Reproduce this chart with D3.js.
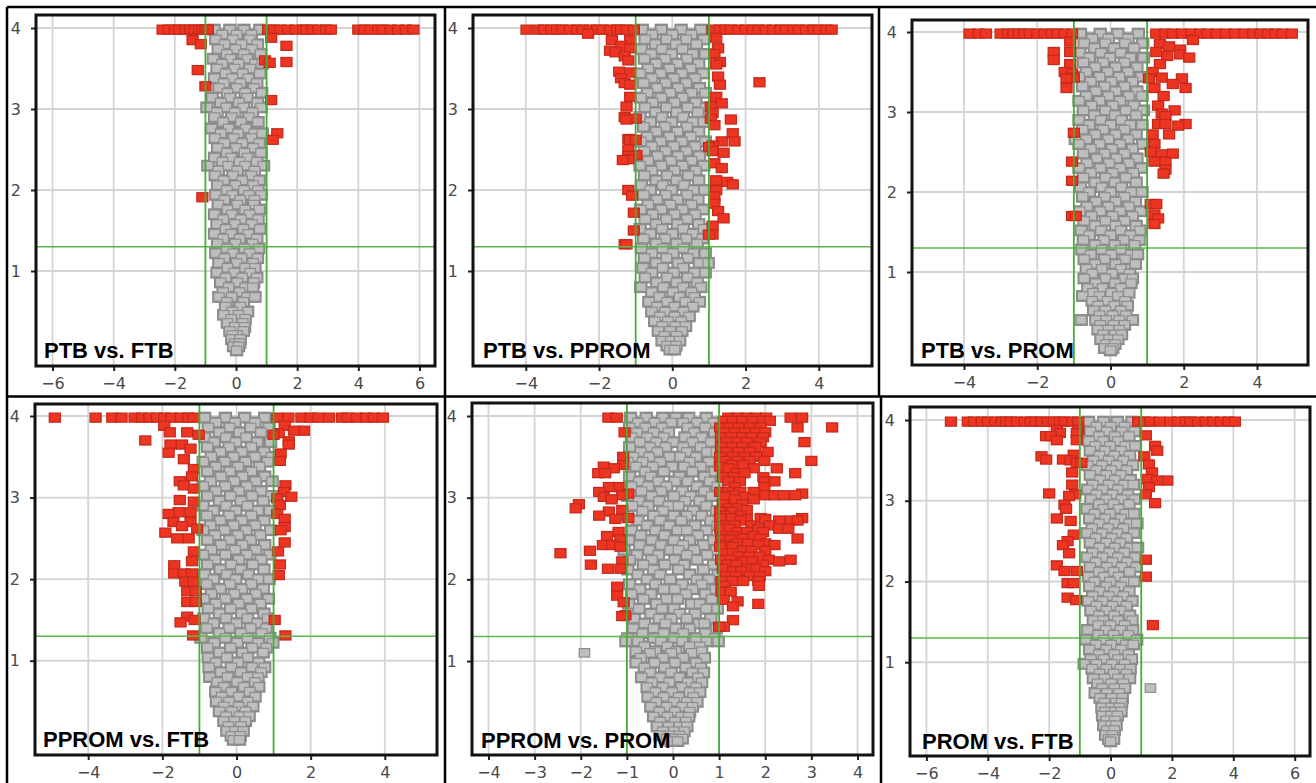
<!DOCTYPE html>
<html><head><meta charset="utf-8">
<script src="https://cdn.jsdelivr.net/npm/d3@7/dist/d3.min.js"></script>
<style>html,body{margin:0;padding:0;background:#fff;overflow:hidden}svg{display:block}</style>
</head><body><svg id="c" width="1316" height="783"></svg>
<script>
// Every row is [y, x, x, x ...].
const titles=["PTB vs. FTB","PTB vs. PPROM","PTB vs. PROM","PPROM vs. FTB","PPROM vs. PROM","PROM vs. FTB"];
const xTicks=[[-6,-4,-2,0,2,4,6],[-4,-2,0,2,4],[-4,-2,0,2,4],[-4,-2,0,2,4],[-4,-3,-2,-1,0,1,2,3,4],[-6,-4,-2,0,2,4,6]];
const yTicks=[1,2,3,4];
const foldX=[-1,1];
const pLine=1.3;

const gray1=[[3.98,-.72,-.2,.26,.78],[3.92,-.45,.02,.5],[3.86,-.66,-.1,.44],[3.8,-.38,.18,.7],[3.74,-.58,-.02,.52],[3.68,-.3,.26,.8],[3.62,-.74,-.18,.36],[3.56,-.46,.08,.62,.86],[3.5,-.62,-.05,.46],[3.44,-.34,.22,.78],[3.38,-.7,-.12,.4],[3.32,-.4,.14,.68],[3.26,-.56,.02,.58],[3.2,-.28,.3,.84],[3.14,-.78,-.2,.36],[3.08,-.5,.1,.7],[3.02,-.95,-.32,.24,.82],[2.96,-.62,-.04,.54],[2.9,-.7,-.14,.42],[2.84,-.42,.16,.72],[2.76,-.8,-.24,.32],[2.7,-.5,.06,.6,.86],[2.64,-.68,-.08,.5],[2.58,-.38,.2,.76],[2.52,-.6,.0,.56],[2.46,-.3,.28,.82],[2.4,-.7,-.16,.38],[2.35,-.44,.12,.68],[2.3,-.92,-.26,.3,.9],[2.24,-.58,.04,.6],[2.18,-.68,-.1,.5],[2.12,-.4,.2,.76],[2.06,-.6,-.02,.56],[2,-.3,.26,.72],[1.94,-.66,-.12,.42,.82],[1.88,-.38,.14,.6],[1.82,-.58,.04,.58],[1.76,-.28,.3,.76],[1.7,-.7,-.14,.44],[1.64,-.42,.16,.72],[1.58,-.62,-.04,.52],[1.52,-.34,.24,.78],[1.46,-.7,-.16,.4],[1.4,-.42,.12,.68],[1.34,-.6,-.02,.54],[1.28,-.3,.28,.74],[1.22,-.66,-.1,.44],[1.16,-.38,.18,.7],[1.1,-.56,.02,.56],[1.04,-.28,.3,.62],[.98,-.62,-.06,.46],[.92,-.34,.2,.68],[.86,-.5,.04,.58],[.8,-.24,.3,.55],[.74,-.42,.12],[.68,-.56,-.14,.36,.62],[.62,-.3,.24],[.56,-.34,.14],[.5,-.12,.38],[.46,-.4,.08],[.41,-.16,.3],[.36,-.28,.22],[.31,-.04,.28],[.26,-.2,.24],[.21,.04,-.12],[.16,-.14,.14],[.11,-.04,.12],[.07,-.08,.08],[.02,.02]];

const gray2=[[3.98,-.82,-.3,.24,.78],[3.92,-.55,.0,.52],[3.86,-.74,-.16,.38,.86],[3.8,-.46,.1,.66],[3.74,-.84,-.28,.28],[3.68,-.58,-.02,.56,.9],[3.62,-.76,-.2,.4],[3.56,-.44,.14,.72],[3.5,-.66,-.08,.5],[3.44,-.88,-.32,.26,.84],[3.38,-.56,.04,.62],[3.32,-.78,-.18,.38],[3.26,-.42,.16,.74],[3.2,-.68,-.06,.52,.9],[3.14,-.86,-.3,.28],[3.08,-.54,.06,.64],[3.02,-.74,-.16,.42,.92],[2.96,-.46,.12,.7],[2.9,-.88,-.28,.3],[2.84,-.6,-.02,.56,.86],[2.78,-.78,-.2,.4],[2.72,-.44,.14,.72],[2.66,-.68,-.08,.5],[2.6,-.86,-.32,.26,.9],[2.54,-.56,.04,.62],[2.48,-.76,-.18,.38],[2.42,-.4,.16,.74],[2.36,-.66,-.04,.52],[2.3,-.88,-.3,.28,.86],[2.24,-.56,.06,.64],[2.18,-.76,-.14,.44],[2.12,-.44,.12,.72],[2.06,-.84,-.26,.32],[2,-.6,-.02,.58,.88],[1.94,-.78,-.18,.4],[1.88,-.42,.14,.7],[1.82,-.66,-.06,.52],[1.76,-.86,-.3,.28,.84],[1.7,-.54,.06,.62],[1.64,-.74,-.16,.4],[1.58,-.44,.14,.72],[1.52,-.88,-.28,.3,.86],[1.46,-.6,.0,.56],[1.4,-.78,-.2,.38,.82],[1.34,-.44,.12,.68],[1.28,-.84,-.26,.3],[1.22,-.56,.02,.58,.9],[1.16,-.76,-.16,.42],[1.1,-.44,.16,.74,.98],[1.04,-.8,-.26,.3],[.98,-.56,.04,.6,.9],[.92,-.74,-.14,.42],[.86,-.42,.12,.68],[.8,-.86,-.24,.3,.78],[.74,-.56,.02,.52],[.68,-.36,.2,.6],[.62,-.64,-.14,.36,.74],[.56,-.42,.06,.56],[.5,-.56,-.2,.3],[.44,-.34,.06,.46],[.38,-.48,-.12,.24],[.32,-.28,.08,.36],[.26,-.38,-.06,.26],[.2,-.22,.12],[.14,-.28,-.04,.2],[.08,-.14,.1],[.03,-.06,.06]];

const gray3=[[3.98,-.82,-.28,.2,.76],[3.92,-.5,-.06,.48],[3.86,-.72,-.14,.4,.88],[3.8,-.44,.1,.64],[3.74,-.84,-.26,.28],[3.68,-.58,-.02,.54,.9],[3.62,-.74,-.2,.38],[3.56,-.42,.14,.72],[3.5,-.66,-.08,.48],[3.44,-.86,-.3,.24,.84],[3.38,-.54,.02,.6],[3.32,-.76,-.16,.38],[3.26,-.4,.14,.72],[3.2,-.66,-.06,.5,.86],[3.14,-.86,-.3,.26],[3.08,-.52,.06,.64],[3.02,-.74,-.14,.42,.9],[2.96,-.44,.12,.7],[2.9,-.86,-.26,.3],[2.84,-.58,.0,.54,.86],[2.78,-.76,-.2,.38],[2.72,-.42,.14,.7],[2.66,-.96,-.66,-.06,.48],[2.6,-.86,-.3,.26,.88],[2.54,-.54,.04,.6],[2.48,-.74,-.16,.38],[2.42,-.38,.16,.72],[2.36,-.64,-.04,.5],[2.3,-.86,-.28,.26,.84],[2.24,-.54,.06,.62],[2.18,-.74,-.14,.42],[2.12,-.42,.12,.7],[2.06,-.82,-.24,.3],[2,-.58,.0,.56,.86],[1.94,-.76,-.16,.38],[1.88,-.4,.14,.68],[1.82,-.64,-.06,.5],[1.76,-.84,-.28,.26,.82],[1.7,-.52,.06,.6],[1.64,-.72,-.14,.38],[1.58,-.42,.14,.7],[1.52,-.8,-.26,.28,.8],[1.46,-.58,.0,.54],[1.4,-.74,-.18,.36,.78],[1.34,-.42,.12,.66],[1.28,-.78,-.24,.28],[1.22,-.54,.02,.56,.74],[1.16,-.72,-.16,.4],[1.1,-.42,.14,.68],[1.04,-.66,-.24,.28],[.98,-.5,.04,.52],[.92,-.72,-.14,.38,.6],[.86,-.4,.12,.56],[.8,-.62,-.22,.28],[.74,-.48,.02,.5],[.7,-.76,-.3,.2],[.64,-.5,-.08,.4],[.58,-.34,.1,.46],[.52,-.46,-.14,.28],[.46,-.3,.06,.42],[.4,-.8,-.4,-.12,.24,.6],[.34,-.28,.08,.38],[.28,-.34,-.06,.24],[.22,-.2,.12,.3],[.16,-.26,-.04,.2],[.1,-.12,.12],[.05,-.16,.06],[.02,.0]];

const gray4=[[3.98,-.86,-.3,.22,.76],[3.92,-.56,-.04,.5],[3.86,-.76,-.18,.38,.88],[3.8,-.46,.08,.66],[3.74,-.86,-.28,.26],[3.68,-.6,-.02,.56,.92],[3.62,-.78,-.2,.4],[3.56,-.44,.14,.74],[3.5,-.68,-.08,.5,.94],[3.44,-.9,-.32,.24,.84],[3.38,-.56,.04,.62],[3.32,-.78,-.18,.4],[3.26,-.42,.16,.76],[3.2,-.7,-.06,.52,.96],[3.14,-.9,-.3,.28],[3.08,-.56,.06,.66],[3.02,-.78,-.16,.42,.94],[2.96,-.46,.12,.72],[2.9,-.9,-.28,.3],[2.84,-.62,-.02,.58,.9],[2.78,-.8,-.2,.4],[2.72,-.44,.14,.74],[2.66,-.7,-.08,.5],[2.6,-.9,-.32,.26,.92],[2.54,-.58,.04,.64],[2.48,-.78,-.18,.38],[2.42,-.42,.16,.76],[2.36,-.68,-.04,.52],[2.3,-.9,-.3,.28,.9],[2.24,-.58,.06,.66],[2.18,-.78,-.14,.44],[2.12,-.44,.12,.74],[2.06,-.86,-.26,.32],[2,-.62,-.02,.58,.88],[1.94,-.8,-.18,.4],[1.88,-.44,.14,.72],[1.82,-.68,-.06,.52],[1.76,-.88,-.3,.28,.86],[1.7,-.56,.06,.64],[1.64,-.76,-.16,.4],[1.58,-.46,.14,.74],[1.52,-.88,-.28,.3,.84],[1.46,-.62,.0,.56],[1.4,-.8,-.2,.38,.8],[1.34,-.46,.12,.68],[1.28,-.96,-.3,.3,.9],[1.22,-.6,.02,.58,.98],[1.16,-.78,-.16,.42,.8],[1.1,-.46,.16,.72],[1.04,-.76,-.26,.3],[.98,-.56,.04,.6],[.92,-.74,-.14,.42,.76],[.86,-.42,.12,.66],[.8,-.72,-.24,.3,.58],[.74,-.52,.02,.5],[.68,-.34,.2,.6],[.62,-.56,-.14,.36],[.56,-.4,.06,.5],[.5,-.54,-.2,.3],[.44,-.34,.06,.44],[.38,-.46,-.12,.24],[.32,-.28,.08,.34],[.26,-.34,-.06,.24],[.2,-.22,.12],[.14,-.26,-.04,.18],[.08,-.14,.1],[.03,-.08,.08]];

const gray5=[[3.98,-.92,-.58,-.22,.06,.34,.72],[3.92,-.76,-.4,-.04,.22,.52,.88],[3.86,-.94,-.6,-.24,.32,.7],[3.8,-.78,-.42,-.1,.46,.9],[3.74,-.9,-.56,-.2,.26,.62],[3.68,-.72,-.36,.0,.42,.82],[3.62,-.94,-.5,-.16,.22,.6],[3.56,-.7,-.34,.3,.74,.94],[3.5,-.86,-.52,-.08,.16,.5],[3.44,-.98,-.66,-.28,.36,.78],[3.38,-.8,-.44,-.02,.24,.6],[3.32,-.6,-.2,.42,.9],[3.26,-.94,-.48,.14,.68],[3.2,-.74,-.32,.04,.32,.8],[3.14,-.9,-.54,-.14,.52,.96],[3.08,-.68,-.26,.2,.68],[3.02,-.98,-.46,.02,.38,.84],[2.96,-.74,-.3,.26,.58],[2.9,-.88,-.54,-.1,.12,.72],[2.84,-.66,-.22,.44,.94],[2.78,-.98,-.42,.02,.3,.62],[2.72,-.76,-.28,.18,.82],[2.66,-.56,-.08,.48,.96],[2.6,-.9,-.38,.1,.3,.72],[2.54,-.7,-.18,.54],[2.48,-.96,-.46,.02,.36,.88],[2.42,-.72,-.26,.22,.66],[2.36,-1.06,-.52,-.06,.12,.46,.94],[2.3,-.78,-.32,.3,.74],[2.24,-.94,-.46,.04,.52],[2.18,-.64,-.18,.24,.88],[2.12,-.98,-.42,.12,.66],[2.06,-.76,-.28,.36,.98],[2,-.56,-.06,.52,.78],[1.94,-.94,-.38,.2,.62],[1.88,-.72,-.2,.04,.42,.92],[1.82,-.9,-.48,.28,.7],[1.76,-.64,-.14,.1,.84],[1.7,-.96,-.36,.4,.58],[1.64,-.74,-.24,.02,.72,.96],[1.58,-.48,.14,.48],[1.52,-.84,-.3,-.04,.3,.82],[1.46,-.62,-.16,.56,.68],[1.4,-.86,-.42,.06,.36,.94],[1.34,-.66,-.2,.22,.7],[1.28,-.98,-.42,.02,.5,.9],[1.24,-1.02,-.76,-.26,.2,.72,.98],[1.18,-.62,-.12,.36,.58],[1.12,-.8,-.38,.06,.62],[1.1,-1.92,-.5,-.04,.4],[1.04,-.7,-.22,.22,.68],[.98,-.8,-.4,.04,.5],[.92,-.62,-.18,.28,.6],[.86,-.5,-.04,.42,.66],[.8,-.68,-.28,.14,.54],[.74,-.46,-.08,.32,.62],[.68,-.56,-.22,.18,.5],[.62,-.38,-.02,.36,.58],[.56,-.54,-.2,.12,.44],[.5,-.36,.02,.3,.52],[.44,-.48,-.14,.2,.42],[.38,-.3,.04,.36],[.32,-.42,-.12,.18,.34],[.26,-.28,.04,.28],[.2,-.34,-.1,.14,.3],[.14,-.22,.02,.24],[.09,-.28,-.08,.14],[.05,-.14,.06,.2],[.02,-.04,.1]];

const gray6=[[3.98,-.72,-.22,.22,.7],[3.92,-.46,.0,.46],[3.86,-.66,-.12,.36,.78],[3.8,-.38,.14,.6],[3.74,-.7,-.24,.24],[3.68,-.5,-.02,.48,.8],[3.62,-.66,-.18,.34],[3.56,-.36,.12,.62],[3.5,-.56,-.06,.42],[3.44,-.74,-.28,.2,.72],[3.38,-.46,.02,.52],[3.32,-.66,-.14,.34],[3.26,-.34,.14,.64],[3.2,-.58,-.06,.44,.74],[3.14,-.74,-.26,.24],[3.08,-.46,.06,.56],[3.02,-.64,-.14,.36,.78],[2.96,-.38,.1,.6],[2.9,-.76,-.24,.26],[2.84,-.52,-.02,.48,.76],[2.78,-.68,-.18,.34],[2.72,-.38,.12,.62,.86],[2.66,-.6,-.08,.42],[2.6,-.76,-.28,.22,.76],[2.54,-.48,.04,.52],[2.48,-.66,-.14,.32],[2.42,-.36,.14,.64,.88],[2.36,-.58,-.04,.44],[2.3,-.76,-.26,.24,.8],[2.24,-.48,.06,.54],[2.18,-.66,-.12,.36,.84],[2.12,-.38,.1,.62],[2.06,-.72,-.22,.26],[2,-.52,-.02,.48,.76],[1.94,-.68,-.14,.34],[1.88,-.36,.12,.6],[1.82,-.58,-.06,.42],[1.76,-.72,-.26,.22,.7],[1.7,-.46,.06,.52],[1.64,-.64,-.14,.32],[1.58,-.38,.12,.62],[1.52,-.56,-.24,.24,.7],[1.46,-.4,.0,.46],[1.4,-.74,-.16,.32,.72],[1.34,-.4,.1,.58],[1.28,-.8,-.22,.24,.85],[1.22,-.48,.02,.5,.74],[1.16,-.68,-.14,.34],[1.1,-.38,.12,.58],[1.04,-.64,-.22,.24,.68],[.98,-.86,-.46,.04,.46],[.92,-.6,-.14,.32,.64],[.86,-.36,.1,.52],[.8,-.56,-.2,.24,.62],[.74,-.42,.02,.42],[.68,-.28,.14,.46,1.3],[.62,-.5,-.12,.28],[.56,-.34,.04,.38],[.5,-.2,.18,.36],[.44,-.28,.02,.28],[.39,-.18,.14,.34],[.34,-.26,.02,.22],[.28,-.14,.14],[.22,-.22,.02,.18],[.16,-.12,.12],[.1,-.16,.06],[.05,-.06,.1],[.02,.0]];

const red1=[[3.98,-2.4,-2.2,-2,-1.85,-1.65,-1.5,-1.35,-1.2,-1.1,-1,-.92,1.05,1.25,1.45,1.7,1.95,2.2,2.3,2.5,2.7,2.95,3.1,4,4.2,4.4,4.65,4.8,5.05,5.3,5.55,5.8],[3.88,1.15],[3.85,-1.42],[3.8,-1.15],[3.78,1.65],[3.6,.95],[3.58,1.65],[3.57,1.1],[3.48,-1.25],[3.28,-1],[3.11,1.15],[2.7,1.35],[2.62,1.2],[1.91,-1.1]];

const red2=[[3.98,-3.98,-3.65,-3.5,-3.3,-3.15,-3,-2.8,-2.6,-2.45,-2.25,-2.05,-1.9,-1.7,-1.5,-1.4,-1.25,-1.05,1.1,1.3,1.45,1.6,1.8,2,2.2,2.35,2.55,2.75,2.95,3.1,3.3,3.45,3.65,3.85,4,4.2,4.35],[3.93,-2.3],[3.88,1.2],[3.85,-1.65,-1.15],[3.78,-1.4],[3.75,-1.15,1.25],[3.72,-1.7],[3.7,-1.55],[3.68,1.15],[3.65,-1.3],[3.6,-1.2],[3.58,1.3],[3.55,1.2],[3.46,-1.45],[3.45,-1.15],[3.4,1.25],[3.38,-1.4],[3.33,2.38],[3.32,-1.3],[3.3,-1.15,1.3],[3.15,-1.15,1.2],[3.07,1.35],[3.03,-1.25,1.05],[2.95,1.1],[2.9,-1.3],[2.88,-1,1.05],[2.87,-1.25,1.6],[2.8,1.15],[2.7,1.65],[2.63,-1.2],[2.62,-1.15,-1],[2.6,1.7,1.35],[2.55,1.1],[2.53,1],[2.5,-1.2],[2.48,1.1],[2.46,1.4],[2.43,-.98],[2.42,-1.2],[2.38,-1.2],[2.37,-1.35],[2.33,1.15],[2.27,1.35],[2.12,1.2],[2.1,1.5],[2.07,1.65],[2,-1.2,1.2],[1.93,-1.1],[1.92,1.15],[1.83,1.15],[1.74,1.25],[1.72,-1.05],[1.65,1.4],[1.56,1.1],[1.5,-1.05],[1.45,1.1,1],[1.33,-1.3,-1.25]];

const red3=[[3.98,-3.85,-3.6,-3.4,-3,-2.8,-2.65,-2.5,-2.35,-2.2,-2,-1.8,-1.6,-1.45,-1.25,-1.05,1.25,1.5,1.7,1.95,2.2,2.45,2.65,2.9,3.15,3.4,3.65,3.9,4.1,4.3,4.5,4.7,4.95],[3.9,2.25],[3.88,-1.1],[3.85,1.35],[3.82,1.6],[3.78,1.9],[3.75,-1.55,-1.1,1.25],[3.72,1.9],[3.7,1.55],[3.68,2.15],[3.65,-1.55],[3.6,-1.1,1.35],[3.5,-1.25,1.15],[3.48,-1.05],[3.43,-1,1.4],[3.42,-1.2,1.05,1.95],[3.35,1.7],[3.3,-1.2,2.05,1.2],[3.2,1.45],[3.08,1.3],[3.02,1.75],[2.98,1.4],[2.95,1.5],[2.85,1.3,1.5,2.05],[2.83,1.85],[2.74,-1],[2.72,1.6,1.15],[2.6,1.2],[2.5,1.1],[2.48,1.7],[2.47,1.4],[2.38,-1.05,1.2,1.5],[2.28,1.5],[2.23,1.45],[2.14,-1.05],[1.85,1.1,1.25],[1.72,1.2],[1.7,-1.05,-.95],[1.67,1.3],[1.6,1.2]];

const red4=[[3.98,-4.9,-3.8,-3.35,-3.1,-2.75,-2.55,-2.35,-2.15,-1.95,-1.75,-1.5,-1.3,-1.15,1.1,1.4,1.75,2,2.2,2.5,2.85,3,3.25,3.5,3.7,3.95],[3.88,-1.95,1.3],[3.82,1.82,1.55],[3.8,-1.8,-1.33],[3.79,1.14],[3.77,-1.02,1],[3.7,-2.46],[3.69,1.41],[3.65,-1.78,-1.47,1.41],[3.6,-1.24],[3.55,-1.83],[3.54,1.19],[3.47,-1.42],[3.45,1.17],[3.35,-1.15],[3.26,-1.2],[3.2,-1.53],[3.15,-1.42,1.32],[3.11,-1.15],[3.07,1.28],[3.01,1.48],[2.99,1.1],[2.97,-1.53],[2.95,-1.15],[2.91,1.17],[2.82,-1.56,-1.24],[2.8,-1.83,1.1],[2.74,1.3],[2.7,-1.7,-1.24],[2.65,-1.47],[2.64,1.3],[2.62,-1.06],[2.6,1.19],[2.57,-1.92],[2.5,-1.6,-1.29],[2.45,1.3],[2.34,-1.15,1.12],[2.22,-1.2],[2.18,1.17],[2.17,-1.68],[2.07,-1.68,-1.42,-1.2],[2.05,1.14],[1.97,-1.38,-1.15],[1.85,-1.33,-1.1],[1.72,-1.33,-1.1],[1.54,-1.33],[1.5,-1.13,1.03],[1.47,-1.51],[1.31,-1.17,1.32]];

const red5=[[3.98,-1.4,-1.22,1.2,1.4,1.6,1.8,2.02,2.55,2.8],[3.94,1.1,1.3,1.5,1.72,1.95,2.1],[3.86,1.02,1.22,1.42,1.66,1.9,2.7,3.45],[3.8,-1.05,1.12,1.34,1.56,1.8,2],[3.74,1.04,1.26,1.5,1.7,1.95],[3.68,1.16,1.38,1.6,1.9,2.85],[3.62,1.04,1.28,1.5,1.78],[3.56,1.16,1.42,1.66,2.05],[3.5,-1.08,1.02,1.3,1.54,1.8],[3.45,1.12,1.4,1.66,1.98,3],[3.4,-1.08,1.28,1.52],[3.38,-1.5,1.02],[3.36,-1.28,1.2,1.75,2.25],[3.3,-1.62,-1.47,1.38,1.55,2.65],[3.25,1.08,1.32,1.96],[3.2,1.2,1.45,2,2.2],[3.13,-1.18,-1.39,1.34,1.98],[3.07,-1.6,1.02,1.2,1.46,1.75],[3.05,-.97,2.8],[3.03,-1.1,1.3,2,2.2,2.4,2.65],[3.01,-1.5,1.12,1.55],[2.98,-1.33,1.34,1.75],[2.92,-2.04,1.08,1.5],[2.87,-2.11,1.2,1.4],[2.85,-1.1,1.6],[2.83,-1.39,1.02,1.28],[2.78,-1.6,1.12,1.46],[2.75,-.97,1.02,1.28,1.9,2.8],[2.74,-1.25,1.6,2],[2.72,1.46,2.3,2.55,2.7],[2.66,1.12,1.34,1.7,2.1],[2.62,1.02,1.22,1.85,2.3,2.5],[2.58,-1.18,1.4,1.6,1.95],[2.53,-1.43,1.1,1.3,1.75],[2.5,1.52,1.9,2.7],[2.49,-1.14,1.04,1.24],[2.44,1.38,1.62,2],[2.42,-1.52,-1.32,1.1,1.85,2.2],[2.4,-1.14,1.02,1.3],[2.35,-1.8,1.5,1.7,2],[2.32,-2.44,1.12,1.3],[2.28,1.42,1.65,1.88],[2.24,1.04,1.24,2.08,2.55],[2.22,-1.1,1.52,1.72,2.3],[2.18,-1.78,1.18,1.38,1.95],[2.13,-1.41,-1.14,1.08,1.6,1.8],[2.1,1.3,1.48,2],[2.04,1.14,1.36,1.66,1.88],[1.98,1.05,1.28,1.52,1.85],[1.92,1.12,1.86],[1.91,-1.21],[1.85,1.05,1.25],[1.8,-1.21],[1.75,1.1],[1.73,1.4],[1.72,-1.07],[1.7,1.85],[1.67,1.3],[1.56,-1.03],[1.55,-1.1],[1.5,1.3],[1.42,1.1,1]];

const red6=[[3.98,-5.2,-4.65,-4.45,-4.2,-4,-3.75,-3.55,-3.4,-3.25,-3.05,-2.8,-2.6,-2.45,-2.25,-2.05,-1.85,-1.65,-1.5,-1.25,-1.05,.9,1.1,1.3,1.6,1.95,2.2,2.45,2.6,2.85,3.1,3.35,3.6,3.85,4.05],[3.88,-1.75,-1.05],[3.84,-1.65,-1.1],[3.81,1.15],[3.8,-2.1,-1.95],[3.75,-1.75,-1.1],[3.68,1.45],[3.62,1.52],[3.57,-1.2],[3.55,-2.25,1.1],[3.51,-1.55,-2.1],[3.5,-1.3],[3.47,-1.1,-.95],[3.45,1.25],[3.35,-1.25,1.35],[3.27,1.2],[3.25,1.85,1.52],[3.2,-1.25],[3.17,1.25],[3.09,-2],[3.08,-1.15,1.15],[3.06,-1.35],[2.97,1.45],[2.95,-1.5],[2.9,-1.45],[2.78,-1.75],[2.75,-1.3],[2.58,-1.2],[2.5,-1.4],[2.45,-1.55],[2.35,-1.35],[2.27,1.15],[2.2,-1.75],[2.13,-1.5,-1.1],[2.06,1.15],[1.98,-1.4,-1.2],[1.8,-1.4],[1.77,-1.12],[1.46,1.38]];

const grayData=[gray1,gray2,gray3,gray4,gray5,gray6];
const redData=[red1,red2,red3,red4,red5,red6];

// Layout of each panel (pixels)
const panels=[
 {box:[36,15,435,366], xr:[52.5,419.5], yr:[352,28], t:[44,358]},
 {box:[473,15,872,366], xr:[525.8,818.8], yr:[352,28], t:[483,358]},
 {box:[912,20,1308,365], xr:[964,1257], yr:[352,32], t:[921,358]},
 {box:[35,404,437,755], xr:[88.2,384.8], yr:[742.3,416], t:[43,747]},
 {box:[472,403,873,755], xr:[488.5,857.5], yr:[742.7,416], t:[481,748]},
 {box:[910,407,1310,756], xr:[926.4,1294.7], yr:[743,420], t:[922,749]}
];
const frames=[[7,7,445,7],[7,7,7,783],[445,7,445,783],[879,7,879,396],[881,396,881,783],[7,396.5,1316,396.5],[445,7,1316,7]];

const svg=d3.select("#c");
const defs=svg.append("defs");
defs.append("filter").attr("id","soft").attr("x","-5%").attr("y","-5%").attr("width","110%").attr("height","110%")
  .append("feGaussianBlur").attr("stdDeviation",0.5);

svg.append("g").selectAll("line").data(frames).join("line")
  .attr("x1",d=>d[0]).attr("y1",d=>d[1]).attr("x2",d=>d[2]).attr("y2",d=>d[3])
  .attr("stroke","#000").attr("stroke-width",2.5);

const flat=rows=>rows.flatMap(r=>r.slice(1).map(x=>[x,r[0]]));

panels.forEach((p,i)=>{
  const [l,t,r,b]=p.box;
  const ticks=xTicks[i];
  const x=d3.scaleLinear().domain([ticks[0],ticks[ticks.length-1]]).range(p.xr);
  const y=d3.scaleLinear().domain([0,4]).range(p.yr);
  const g=svg.append("g");
  const plot=g.append("g").attr("filter","url(#soft)");

  plot.append("g").selectAll("line").data(ticks).join("line")
    .attr("x1",d=>x(d)).attr("x2",d=>x(d)).attr("y1",t).attr("y2",b).attr("stroke","#d4d4d4").attr("stroke-width",1.8);
  plot.append("g").selectAll("line").data(yTicks).join("line")
    .attr("y1",d=>y(d)).attr("y2",d=>y(d)).attr("x1",l).attr("x2",r).attr("stroke","#d4d4d4").attr("stroke-width",1.8);

  const marks=(pts,fill,stroke,w,h,sw)=>plot.append("g").selectAll("rect").data(pts).join("rect")
    .attr("x",d=>x(d[0])-w/2).attr("y",d=>y(d[1])-h/2).attr("width",w).attr("height",h)
    .attr("fill",fill).attr("stroke",stroke).attr("stroke-width",sw);
  const grayPts=flat(grayData[i]);
  // Squares inside the pile get a dark halo; isolated squares stay thin-edged.
  const crowded=grayPts.filter(a=>grayPts.some(c=>c!==a&&Math.abs(x(c[0])-x(a[0]))<13&&Math.abs(y(c[1])-y(a[1]))<11));
  marks(crowded,"#8a8a8a","#8a8a8a",10,8.5,3.4);
  marks(grayPts,"#bebebe","#8e8e8e",10.5,8.5,1.2);
  marks(flat(redData[i]),"#ee3524","#c62a1c",11,9,1.3);

  plot.append("line").attr("x1",l).attr("x2",r).attr("y1",y(pLine)).attr("y2",y(pLine)).attr("stroke","#5cb84c").attr("stroke-width",1.4);
  plot.append("g").selectAll("line").data(foldX).join("line")
    .attr("x1",d=>x(d)).attr("x2",d=>x(d)).attr("y1",t).attr("y2",b).attr("stroke","#46ad38").attr("stroke-width",1.8);

  const fmt=d=>String(d).replace("-","\u2212");
  const ax=g.append("g").attr("transform",`translate(0,${b})`)
    .call(d3.axisBottom(x).tickValues(ticks).tickFormat(fmt).tickSize(5).tickPadding(7));
  const ay=g.append("g").attr("transform",`translate(${l},0)`)
    .call(d3.axisLeft(y).tickValues(yTicks).tickFormat(fmt).tickSize(5).tickPadding(10));
  [ax,ay].forEach(a=>{
    a.select(".domain").remove();
    a.selectAll("line").attr("stroke","#222").attr("stroke-width",2);
    a.selectAll("text").attr("font-family","'DejaVu Sans'").attr("font-size",16).attr("fill","#4a4a4a");
  });
  g.append("rect").attr("x",l).attr("y",t).attr("width",r-l).attr("height",b-t)
    .attr("fill","none").attr("stroke","#111").attr("stroke-width",3);
  g.append("text").attr("x",p.t[0]).attr("y",p.t[1]).text(titles[i])
    .attr("font-family","'Liberation Sans'").attr("font-weight","bold").attr("font-size",22).attr("fill","#000");
});
</script></body></html>
